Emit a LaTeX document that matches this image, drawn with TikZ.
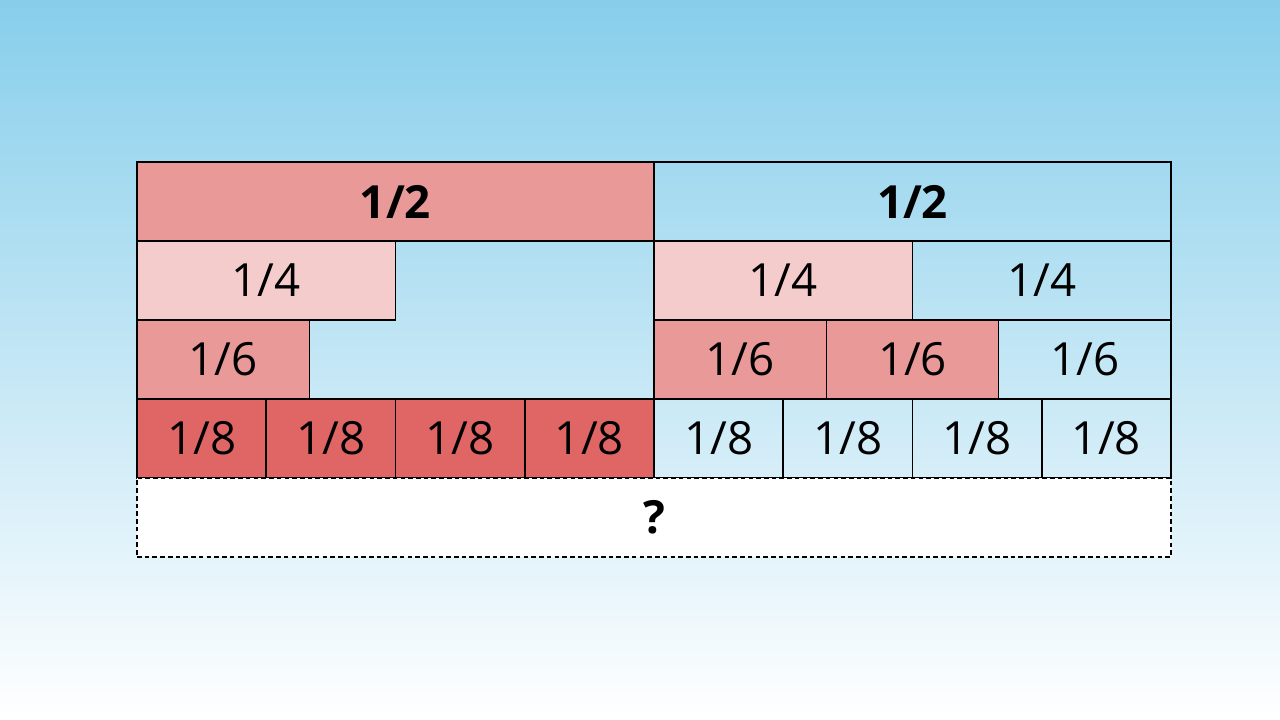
\documentclass[tikz,border=0pt]{standalone}
\usepackage{fontspec}
\setmainfont{Open Sans}
\usetikzlibrary{positioning}
\definecolor{ciel}{HTML}{87CEEB}
\definecolor{rougeA}{HTML}{EA9999}
\definecolor{rougeB}{HTML}{F4CCCC}
\definecolor{rougeC}{HTML}{E06666}
\tikzstyle{every node}=[font=\fontsize{13}{15}\selectfont]
\tikzset{brique/.style={draw, line width=0.45pt, inner sep=0pt, outer sep=0pt,
	minimum height=0.79cm, anchor=south west}}

\begin{document}
\begin{tikzpicture}
	%\draw[opacity=0.1] (0,0) grid (12.8,7.2);

% FOND
	\fill[top color=ciel, bottom color=white] (0,0) rectangle (12.8,7.2);
	\useasboundingbox (0,0) rectangle (12.8,7.2);

% DEMIS
	\node[brique, minimum width=5.17cm, fill=rougeA] (d1) at (1.37,4.79) {\bfseries 1/2};
	\node[brique, minimum width=5.17cm, right=0pt of d1] (d2) {\bfseries 1/2};

% QUARTS
	% gauche
	\node[brique, minimum width=2.585cm, fill=rougeB] (q1) at (1.37,4.00) {1/4};
	% droite
	\node[brique, minimum width=2.585cm, fill=rougeB] (q2) at (6.54,4.00) {1/4};
	\node[brique, minimum width=2.585cm, right=0pt of q2] (q3) {1/4};

% SIXIEMES
	% gauche
	\node[brique, minimum width=1.7233cm, fill=rougeA] (s1) at (1.37,3.21) {1/6};
	% droite
	\node[brique, minimum width=1.7233cm, fill=rougeA] (s2) at (6.54,3.21) {1/6};
	\node[brique, minimum width=1.7233cm, fill=rougeA, right=0pt of s2] (s3) {1/6};
	\node[brique, minimum width=1.7233cm, right=0pt of s3] (s4) {1/6};

% HUITIEMES
	\foreach \i in {0,...,3}
		\node[brique, minimum width=1.2925cm, fill=rougeC] (h\i) at (1.37+1.2925*\i,2.42) {1/8};
	\foreach \i in {4,...,7}
		\node[brique, minimum width=1.2925cm] (h\i) at (1.37+1.2925*\i,2.42) {1/8};

% INCONNU
	\node[brique, dash pattern=on 1.3pt off 0.9pt, fill=white, minimum width=10.34cm] (x) at (1.37,1.63) {\bfseries ?};

\end{tikzpicture}
\end{document}
